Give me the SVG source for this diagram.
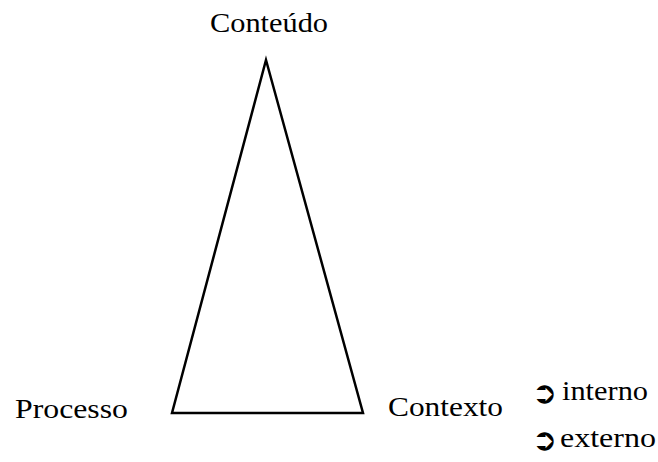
<svg xmlns="http://www.w3.org/2000/svg" width="658" height="462" viewBox="0 0 658 462">
<style>
.t{font-family:"Liberation Serif","Times New Roman",serif;font-size:27px;fill:#000}
.b{font-family:"DejaVu Sans",sans-serif;font-size:30px;fill:#000}
.edge{fill:none;stroke:#000;stroke-width:2.5;stroke-linejoin:miter}
</style>
<rect width="658" height="462" fill="#fff"/>
<g id="connectors">
<polygon class="edge" points="266,60 363,413 172,413"/>
</g>
<g id="conteudo"><text class="t" x="210" y="32" textLength="118" lengthAdjust="spacingAndGlyphs">Conteúdo</text></g>
<g id="processo"><text class="t" x="15" y="418" textLength="113" lengthAdjust="spacingAndGlyphs">Processo</text></g>
<g id="contexto"><text class="t" x="388" y="416" textLength="115" lengthAdjust="spacingAndGlyphs">Contexto</text></g>
<g id="interno"><text class="b" x="532" y="403">➲</text><text class="t" x="562" y="400" textLength="86" lengthAdjust="spacingAndGlyphs">interno</text></g>
<g id="externo"><text class="b" x="532" y="450">➲</text><text class="t" x="560" y="447" textLength="96" lengthAdjust="spacingAndGlyphs">externo</text></g>
</svg>
